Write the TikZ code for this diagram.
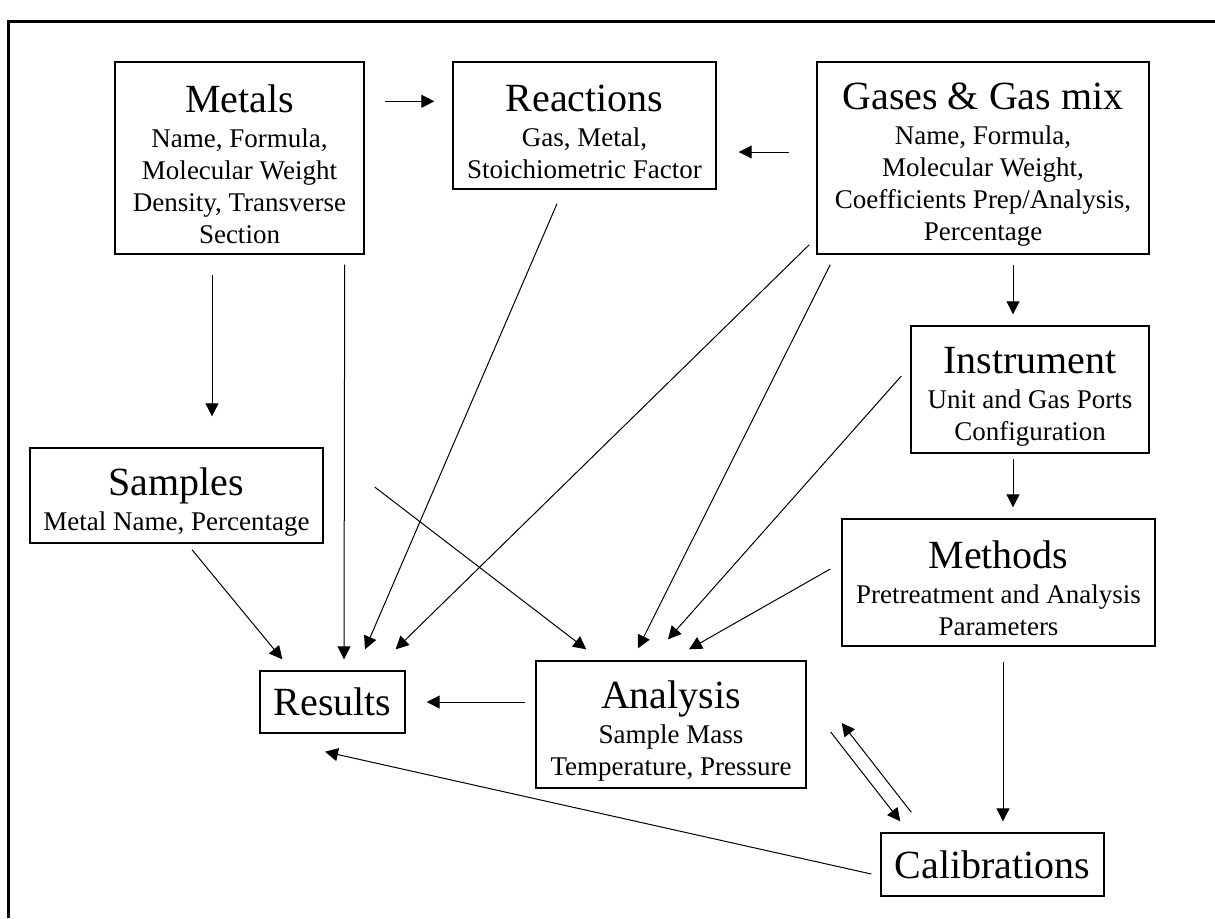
\documentclass[tikz,border=0pt]{standalone}
\usepackage{fontspec}
\setmainfont{Liberation Serif}
\usetikzlibrary{arrows.meta,positioning}
\newcommand{\boxtitle}[1]{{\fontsize{20}{24}\selectfont\rule{0pt}{20pt}#1}\\[1.5pt]}
\tikzset{
    entity/.style={
        draw,
        line width=0.7pt,
        align=center,
        inner sep=2pt,
        font=\fontsize{13.5}{16}\selectfont
    },
    bigentity/.style={
        entity,
        font=\fontsize{20}{24}\selectfont
    },
    link/.style={
        -{Triangle[length=6.5pt,width=6.5pt]},
        line width=0.5pt
    }
}

\begin{document}
\begin{tikzpicture}[x=0.5pt,y=-0.5pt]
  \useasboundingbox (0,0) rectangle (1215,918);
  \draw[line width=1.5pt] (1215,21) -- (8,21) -- (8,918);

  \node[entity,minimum width=124.5pt,minimum height=96pt] (Met) at (239.5,158)
    {\boxtitle{Metals}Name, Formula,\\Molecular Weight\\Density, Transverse\\Section};
  \node[entity,minimum width=131.5pt,minimum height=63.5pt] (Rea) at (584.5,125.5)
    {\boxtitle{Reactions}Gas, Metal,\\Stoichiometric Factor};
  \node[entity,minimum width=166pt,minimum height=96pt] (Gas) at (983,158)
    {\boxtitle{Gases \& Gas mix}Name, Formula,\\Molecular Weight,\\Coefficients Prep/Analysis,\\Percentage};
  \node[entity,minimum width=119pt,minimum height=63.5pt] (Ins) at (1030,389.5)
    {\boxtitle{Instrument}Unit and Gas Ports\\Configuration};
  \node[entity,minimum width=146.5pt,minimum height=47.5pt] (Sam) at (176.5,495.5)
    {\boxtitle{Samples}Metal Name, Percentage};
  \node[entity,minimum width=156.5pt,minimum height=63.5pt] (Mth) at (998.5,582.5)
    {\boxtitle{Methods}Pretreatment and Analysis\\Parameters};
  \node[bigentity,minimum width=72.5pt,minimum height=31pt] (Res) at (332.5,702) {Results};
  \node[entity,minimum width=135pt,minimum height=63.5pt] (Ana) at (671,724.5)
    {\boxtitle{Analysis}Sample Mass\\Temperature, Pressure};
  \node[bigentity,minimum width=111.5pt,minimum height=31.5pt] (Cal) at (992.5,864.5) {Calibrations};

  \draw[link] ([shift={(20,40)}]Met.north east) -- ([shift={(-18,40)}]Rea.north west);
  \draw[link] ([shift={(-27,-6)}]Gas.west) -- ([shift={(22,26.5)}]Rea.east);
  \draw[link] ([shift={(-27.5,20)}]Met.south) -- ([shift={(35.5,-31)}]Sam.north);
  \draw[link] ([shift={(-20,10)}]Met.south east) -- ([shift={(11.5,-11)}]Res.north);
  \draw[link] ([shift={(-27.5,14)}]Rea.south) -- ([shift={(32.5,-21)}]Res.north);
  \draw[link] ([shift={(-7,-10)}]Gas.south west) -- ([shift={(-10,-21)}]Res.north east);
  \draw[link] ([shift={(15.5,6)}]Sam.south) -- ([shift={(23,-11)}]Res.north west);
  \draw[link] ([shift={(51,-8.5)}]Sam.east) -- ([shift={(51,-11)}]Ana.north west);
  \draw[link] ([shift={(14,10)}]Gas.south west) -- ([shift={(-33,-12)}]Ana.north);
  \draw[link] ([shift={(-9,-13.5)}]Ins.west) -- ([shift={(-3,-21)}]Ana.north);
  \draw[link] ([shift={(-11,-13.5)}]Mth.west) -- ([shift={(18,-11)}]Ana.north);
  \draw[link] ([shift={(30,10)}]Gas.south) -- ([shift={(-17,-11)}]Ins.north);
  \draw[link] ([shift={(-17,5)}]Ins.south) -- ([shift={(14.5,-11)}]Mth.north);
  \draw[link] ([shift={(4.5,15)}]Mth.south) -- ([shift={(10.5,-11)}]Cal.north);
  \draw[link] ([shift={(-10,-22.5)}]Ana.west) -- ([shift={(21,0)}]Res.east);
  \draw[link] ([shift={(24,7.5)}]Ana.east) -- ([shift={(20,-11)}]Cal.north west);
  \draw[link] ([shift={(31,-20)}]Cal.north west) -- ([shift={(35,-1.5)}]Ana.east);
  \draw[link] ([shift={(-9,9.5)}]Cal.west) -- ([shift={(-7.5,18)}]Res.south);

\end{tikzpicture}
\end{document}
